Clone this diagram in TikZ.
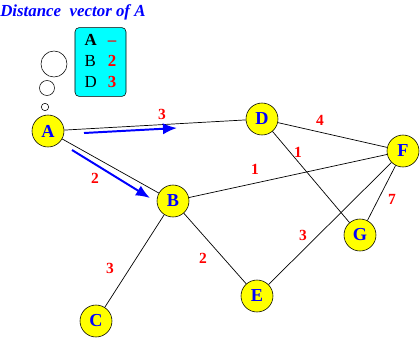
\documentclass[tikz,border=0pt]{standalone}
\usepackage{fontspec}
\setmainfont{Liberation Serif}
\usepackage{tikz}
\usetikzlibrary{
  calc,%
  arrows.meta,%
  positioning
}
\definecolor{dvcyan}{RGB}{0,255,255}
\definecolor{dvyellow}{RGB}{255,255,0}
\definecolor{dvblue}{RGB}{0,0,255}
\definecolor{dvred}{RGB}{255,0,0}
\tikzset{>=latex}
\tikzset{router/.style={circle, draw=black, fill=dvyellow, thin,
    minimum size=0.8cm, inner sep=0pt, text=dvblue,
    font=\fontsize{13}{13}\selectfont\bfseries}}
\tikzset{link/.style={draw=black, line width=0.5pt}}
\tikzset{cost/.style={text=dvred, font=\fontsize{11}{11}\selectfont\bfseries,
    inner sep=0pt}}
\tikzset{vecarrow/.style={draw=dvblue, line width=1.4pt,
    -{Latex[length=10pt, width=8pt]}}}

\begin{document}
\begin{tikzpicture}[x=0.025cm, y=-0.025cm]
  \useasboundingbox (0,0) rectangle (420,337);
  % routers
  \node[router] (A) at (48,131) {A};
  \node[router] (D) at (262,119) {D};
  \node[router] (F) at (403,151) {F};
  \node[router] (B) at (173,201) {B};
  \node[router] (G) at (360,235) {G};
  \node[router] (E) at (257,296) {E};
  \node[router] (C) at (96,321) {C};
  % links
  \draw[link] (A) -- (D);
  \draw[link] (A) -- (B);
  \draw[link] (D) -- (F);
  \draw[link] (D) -- (G);
  \draw[link] (B) -- (F);
  \draw[link] (B) -- (C);
  \draw[link] (B) -- (E);
  \draw[link] (F) -- (E);
  \draw[link] (F) -- (G);
  % link costs
  \node[cost] (cAD) at (162,114) {3};
  \node[cost] (cAB) at (95,178) {2};
  \node[cost] (cDF) at (320,120) {4};
  \node[cost] (cDG) at (298,152) {1};
  \node[cost] (cBF) at (255,169) {1};
  \node[cost] (cFG) at (392,199) {7};
  \node[cost] (cFE) at (303,235) {3};
  \node[cost] (cBE) at (203,258) {2};
  \node[cost] (cBC) at (110,268) {3};
  % vector sent by A
  \coordinate (toDs) at (84,133); %
  \coordinate (toDe) at (177,128); %
  \coordinate (toBs) at (72,150); %
  \coordinate (toBe) at (150,198); %
  \draw[vecarrow] (toDs) -- (toDe);
  \draw[vecarrow] (toBs) -- (toBe);
  % thought bubble
  \draw[thin] (54,64) circle [radius=13];
  \draw[thin] (47,88) circle [radius=7.5];
  \draw[thin] (45,107) circle [radius=3.7];
  \node[draw=black, thin, fill=dvcyan, rounded corners=3pt,
    minimum width=1.275cm, minimum height=1.5cm, inner sep=2pt,
    font=\fontsize{12}{15}\selectfont] (dv) at (100.5,62)
    {\begin{tabular}{@{}l@{\hspace{8pt}}l@{}}
        \textbf{A} & \textcolor{dvred}{\textbf{--}}\\
        B & \textcolor{dvred}{\textbf{2}}\\
        D & \textcolor{dvred}{\textbf{3}}
      \end{tabular}};
  \node[anchor=west, inner sep=0pt, text=dvblue,
    font=\fontsize{12}{12}\selectfont\bfseries\itshape] (title) at (0,12)
    {Distance~~vector of A};
\end{tikzpicture}
\end{document}
